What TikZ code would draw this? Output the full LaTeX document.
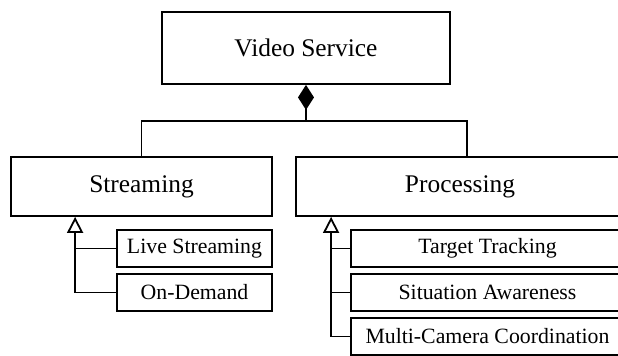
\documentclass[tikz,border=0pt]{standalone}
\usepackage{fontspec}
\setmainfont{Liberation Serif}
\usetikzlibrary{arrows.meta,positioning}

\begin{document}
\begin{tikzpicture}[x=0.5pt, y=-0.5pt, line width=0.9pt, node distance=22pt,
	main/.style = {draw, rectangle, inner sep=0pt, minimum height=29.5pt, font=\fontsize{12.7}{15}\selectfont},
	sub/.style = {draw, rectangle, inner sep=0pt, minimum height=18.5pt, font=\fontsize{10.9}{13}\selectfont},
	comp/.style = {{Diamond[length=12.5pt,width=8pt]}-},
	gen/.style = {-{Triangle[open,length=8pt,width=8pt]}}]
		\useasboundingbox (0,0) rectangle (618,355);
		\clip (0,0) rectangle (618,355);
		\node[main, minimum width=144pt, minimum height=36pt] (0) at (306,48) {Video Service};
		\node[main, minimum width=130.5pt] (1) at (141.5,186.5) {Streaming};
		\node[main, minimum width=164pt] (2) at (460,186.5) {Processing};
		\node[sub, minimum width=77.5pt] (10) at (194.5,248.5) {Live Streaming};
		\node[sub, minimum width=77.5pt] (11) [below of=10] {On-Demand};
		\node[sub, minimum width=136.5pt] (20) at (487.5,248.5) {Target Tracking};
		\node[sub, minimum width=136.5pt] (21) [below of=20] {Situation Awareness};
		\node[sub, minimum width=136.5pt] (22) [below of=21] {Multi-Camera Coordination};
		% composition
		\coordinate (j) at (306,121);
		\draw[comp] (0.south) -- (j);
		\draw (1.north) |- (j) -| ([xshift=3.5pt]2.north);
		% generalization
		\path (1.south west) ++(65,0) coordinate (a1);
		\path (2.south west) ++(36,0) coordinate (a2);
		\draw[gen] (11.west) -| (a1);
		\draw (10.west) -- (10.west -| a1);
		\draw[gen] (22.west) -| (a2);
		\draw (20.west) -- (20.west -| a2);
		\draw (21.west) -- (21.west -| a2);
\end{tikzpicture}
\end{document}
